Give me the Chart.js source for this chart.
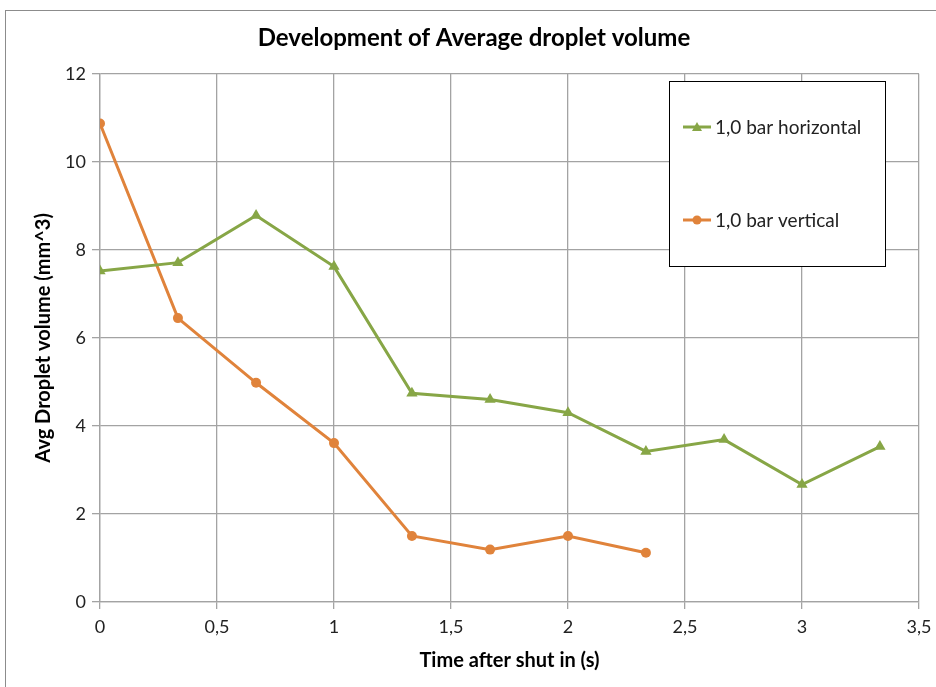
<!DOCTYPE html>
<html>
<head>
<meta charset="utf-8">
<script src="https://cdn.jsdelivr.net/npm/chart.js@4"></script>
<style>
  html, body { margin: 0; padding: 0; background: #fff; }
  #wrap { width: 936px; height: 687px; position: relative; }
</style>
</head>
<body>
<div id="wrap"><canvas id="chart" width="936" height="687"></canvas></div>
<script>
const timeHorizontal = [0, 0.333, 0.667, 1, 1.333, 1.667, 2, 2.333, 2.667, 3, 3.333];
const volHorizontal = [7.52, 7.71, 8.78, 7.62, 4.74, 4.6, 4.3, 3.42, 3.69, 2.67, 3.53];
const timeVertical = [0, 0.333, 0.667, 1, 1.333, 1.667, 2, 2.333];
const volVertical = [10.87, 6.45, 4.98, 3.61, 1.5, 1.19, 1.5, 1.12];

const GREEN = "#87a646";
const ORANGE = "#e0833b";
const GRID = "#a3a3a3";
const FONT = "Lato, 'Open Sans', sans-serif";

const toPoints = (xs, ys) => xs.map((x, i) => ({ x, y: ys[i] }));
const comma = (v) => String(v).replace(".", ",");

// outer frame of the chart object
const framePlugin = {
  id: "frame",
  beforeDraw(chart) {
    const ctx = chart.ctx;
    ctx.save();
    ctx.fillStyle = "#fff";
    ctx.fillRect(0, 0, chart.width, chart.height);
    ctx.strokeStyle = "#8c8c8c";
    ctx.lineWidth = 1;
    ctx.strokeRect(5.5, 10.5, chart.width + 20, chart.height + 20);
    ctx.restore();
  },
};

// legend box placed inside the plot, like the original
const boxLegend = {
  id: "boxLegend",
  afterDraw(chart) {
    const ctx = chart.ctx;
    ctx.save();
    ctx.fillStyle = "#fff";
    ctx.fillRect(669.5, 81.5, 216, 185);
    ctx.strokeStyle = "#000";
    ctx.lineWidth = 1;
    ctx.strokeRect(669.5, 81.5, 216, 185);
    const rows = [127, 220];
    chart.data.datasets.forEach((ds, i) => {
      const y = rows[i];
      ctx.strokeStyle = ds.borderColor;
      ctx.lineWidth = 3;
      ctx.beginPath();
      ctx.moveTo(683, y);
      ctx.lineTo(711, y);
      ctx.stroke();
      ctx.fillStyle = ds.backgroundColor;
      ctx.beginPath();
      if (ds.pointStyle === "triangle") {
        ctx.moveTo(697, y - 5);
        ctx.lineTo(702, y + 4);
        ctx.lineTo(692, y + 4);
        ctx.closePath();
      } else {
        ctx.arc(697, y, 4.5, 0, Math.PI * 2);
      }
      ctx.fill();
      ctx.fillStyle = "#222";
      ctx.font = "19px " + FONT;
      ctx.textBaseline = "middle";
      ctx.fillText(ds.label, 715, y + 1);
    });
    ctx.restore();
  },
};

new Chart(document.getElementById("chart"), {
  type: "line",
  data: {
    datasets: [
      {
        label: "1,0 bar horizontal",
        data: toPoints(timeHorizontal, volHorizontal),
        borderColor: GREEN,
        backgroundColor: GREEN,
        borderWidth: 3,
        pointStyle: "triangle",
        pointRadius: 6.5,
        pointBorderWidth: 0,
        tension: 0,
      },
      {
        label: "1,0 bar vertical",
        data: toPoints(timeVertical, volVertical),
        borderColor: ORANGE,
        backgroundColor: ORANGE,
        borderWidth: 3,
        pointStyle: "circle",
        pointRadius: 5,
        pointBorderWidth: 0,
        tension: 0,
      },
    ],
  },
  options: {
    responsive: false,
    animation: false,
    layout: { padding: { left: 29, right: 17, top: 0, bottom: 14 } },
    plugins: {
      legend: { display: false },
      tooltip: { enabled: false },
      title: {
        display: true,
        text: "Development of Average droplet volume",
        color: "#000",
        font: { family: FONT, size: 24, weight: "bold" },
        padding: { top: 24, bottom: 21 },
      },
    },
    scales: {
      x: {
        type: "linear",
        min: 0,
        max: 3.5,
        afterFit: (s) => { s.height = 71; s.paddingRight = 0; s.paddingLeft = 0; },
        ticks: { stepSize: 0.5, color: "#222", padding: 7, font: { family: FONT, size: 18 }, callback: (v) => comma(v), maxRotation: 0 },
        grid: { color: GRID, lineWidth: 1.3, tickLength: 7 },
        border: { color: GRID, width: 1.3 },
        title: { display: true, text: "Time after shut in (s)", color: "#000", font: { family: FONT, size: 20, weight: "bold" }, padding: { top: 0, bottom: 0 } },
      },
      y: {
        min: 0,
        max: 12,
        afterFit: (s) => { s.width = 71; },
        ticks: { stepSize: 2, color: "#222", padding: 6, font: { family: FONT, size: 18 } },
        grid: { color: GRID, lineWidth: 1.3, tickLength: 8 },
        border: { color: GRID, width: 1.3 },
        title: { display: true, text: "Avg Droplet volume (mm^3)", color: "#000", font: { family: FONT, size: 20, weight: "bold" }, padding: { top: 3, bottom: 0 } },
      },
    },
  },
  plugins: [framePlugin, boxLegend],
});
</script>
</body>
</html>
